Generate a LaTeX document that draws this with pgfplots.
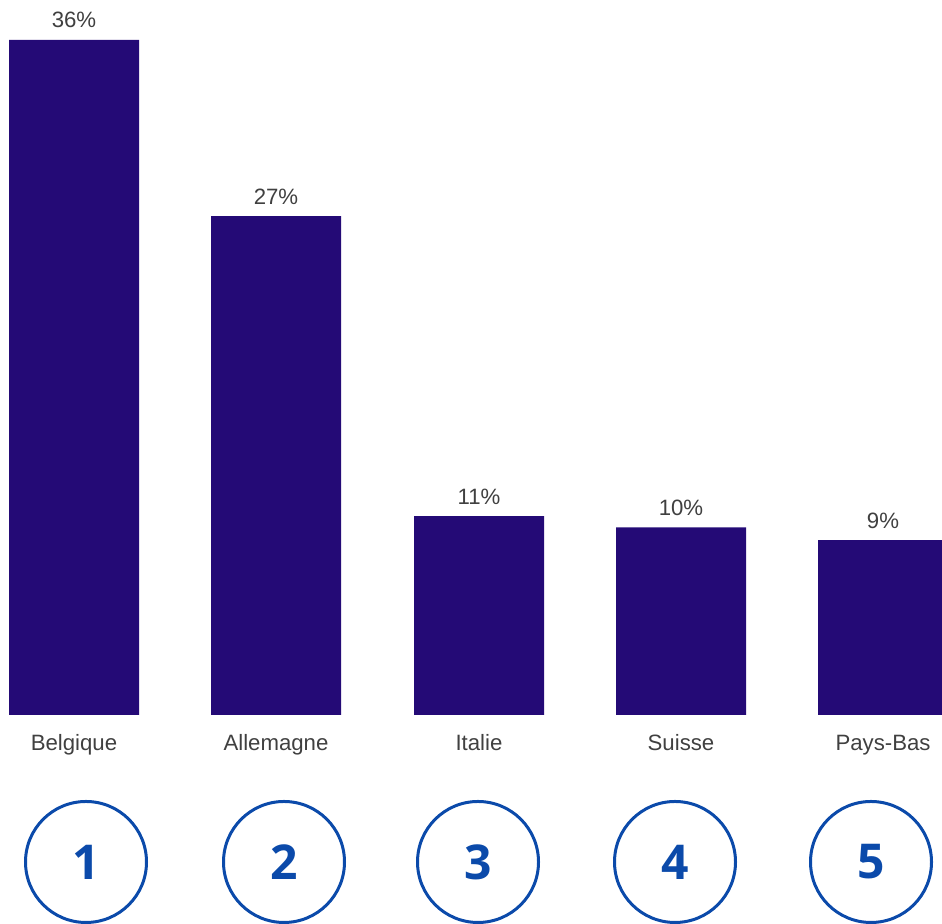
\documentclass[border=0pt]{standalone}
\usepackage{pgfplots}
\pgfplotsset{compat=1.18}
\usepackage{fontspec}
\setmainfont{Liberation Sans}
\newfontfamily\numfont{Open Sans}
\definecolor{barcol}{HTML}{240A76}
\definecolor{ringcol}{HTML}{0B4AAA}
\definecolor{txt}{HTML}{404040}
\tikzset{
  cat/.style={anchor=base, text=txt, font=\fontsize{11.1}{13}\selectfont, inner sep=0pt},
  ring/.style={circle, draw=ringcol, line width=1.5pt, minimum size=60.5pt, inner sep=0pt,
    text=ringcol, font=\numfont\bfseries\fontsize{24}{24}\selectfont},
}

\begin{document}
\begin{tikzpicture}
  \begin{axis}[
      name=ax,
      scale only axis,
      width=471pt, height=462pt,
      xmin=0, xmax=942,
      ymin=-11.147, ymax=38.133,
      hide axis,
      ybar, bar width=65pt,
      point meta=explicit symbolic,
      nodes near coords,
      every node near coord/.append style={
        font=\fontsize{11.1}{13}\selectfont, text=txt,
        anchor=base, yshift=6pt, inner sep=0pt},
    ]
    % x positions in pixels of the reference, heights in %
    \addplot[fill=barcol, draw=none] table[meta=lab] {
      x   y     lab
      74  36    36\%
      276 26.6  27\%
      479 10.6  11\%
      681 10.0  10\%
      883 9.33  9\%
    };

    \node[cat] at (axis cs:74,-1.92) {Belgique};
    \node[cat] at (axis cs:276,-1.92) {Allemagne};
    \node[cat] at (axis cs:479,-1.92) {Italie};
    \node[cat] at (axis cs:681,-1.92) {Suisse};
    \node[cat] at (axis cs:883,-1.92) {Pays-Bas};

    \node[ring] at (axis cs:86,-7.84) {1};
    \node[ring] at (axis cs:284,-7.84) {2};
    \node[ring] at (axis cs:478,-7.84) {3};
    \node[ring] at (axis cs:675,-7.84) {4};
    \node[ring] at (axis cs:871,-7.84) {5};
  \end{axis}
  \pgfresetboundingbox
  \path[use as bounding box] (ax.south west) rectangle (ax.north east);
\end{tikzpicture}
\end{document}
